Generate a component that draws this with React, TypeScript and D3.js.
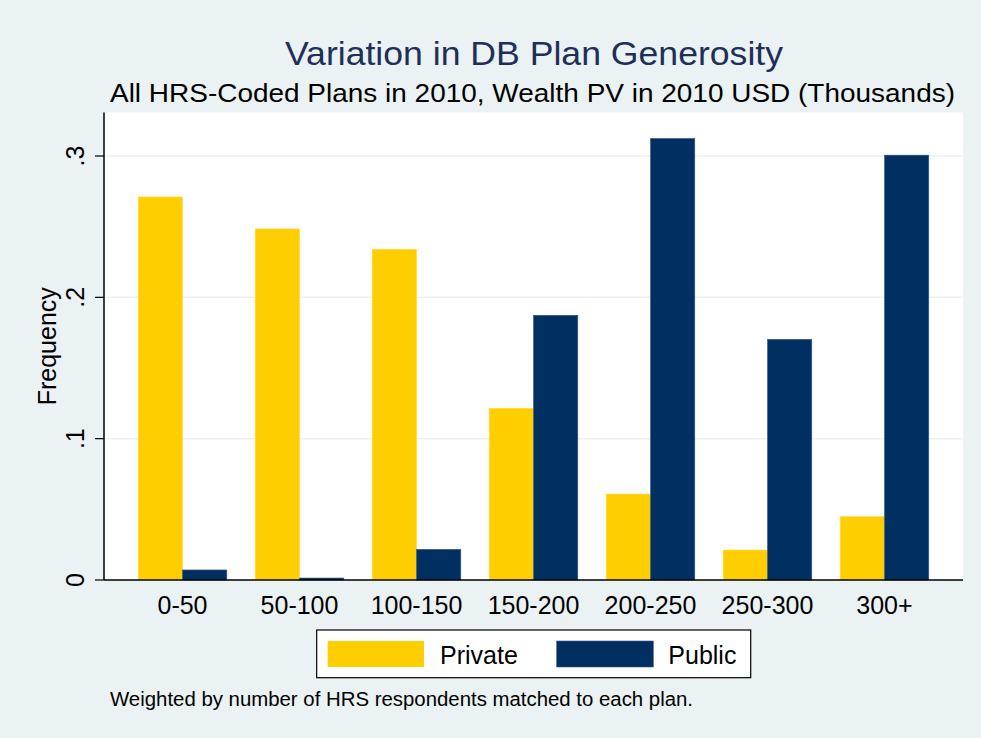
import React from "react";
import * as d3 from "d3";

const categories = ["0-50", "50-100", "100-150", "150-200", "200-250", "250-300", "300+"];
const privateValues = [0.271, 0.2484, 0.234, 0.1215, 0.0608, 0.0212, 0.0448];
const publicValues = [0.0071, 0.0014, 0.0217, 0.1873, 0.3124, 0.1703, 0.3006];
const seriesNames = ["Private", "Public"];
const yTicks = [0, 0.1, 0.2, 0.3];
const yTickLabels = ["0", ".1", ".2", ".3"];

const W = 981;
const H = 738;
const FONT = "'Liberation Sans', Arial, sans-serif";
const colors = { Private: "#FFCE00", Public: "#002F62" };
const strokes = { Private: "#FFDA40", Public: "#3A5A85" };

export default function App() {
  const left = 104, right = 963, top = 112.5, bottom = 580;
  const x0 = d3.scaleBand<string>().domain(categories).range([left, right]).paddingInner(0.2427).paddingOuter(0.2925);
  const x1 = d3.scaleBand<string>().domain(seriesNames).range([0, x0.bandwidth()]);
  const y = d3.scaleLinear().domain([0, 0.3]).range([bottom, 156]);
  const data = categories.map((c, i) => ({ c, vals: [privateValues[i], publicValues[i]] }));

  return (
    <svg width={W} height={H} style={{ position: "absolute", left: 0, top: 0 }} xmlns="http://www.w3.org/2000/svg">
      <rect x={0} y={0} width={W} height={H} fill="#EAF2F3" />
      <rect x={left} y={top} width={right - left} height={bottom - top} fill="#FFFFFF" />
      {yTicks.filter((t) => t > 0).map((t) => (
        <line key={t} x1={left} x2={right} y1={y(t)} y2={y(t)} stroke="#EAF2F3" strokeWidth={1.5} />
      ))}
      {data.map((d) => (
        <g key={d.c} transform={`translate(${x0(d.c)},0)`}>
          {seriesNames.map((s, j) => (
            <rect
              key={s}
              x={x1(s)!}
              y={y(d.vals[j])}
              width={x1.bandwidth()}
              height={bottom - y(d.vals[j])}
              fill={(colors as any)[s]}
              stroke={(strokes as any)[s]}
              strokeWidth={0.6}
            />
          ))}
        </g>
      ))}
      <line x1={left} x2={left} y1={top} y2={bottom} stroke="#000" strokeWidth={1.5} />
      <line x1={left} x2={right} y1={bottom} y2={bottom} stroke="#000" strokeWidth={1.5} />
      {yTicks.map((t, i) => (
        <g key={t}>
          <line x1={95} x2={left} y1={y(t)} y2={y(t)} stroke="#000" strokeWidth={1.2} />
          <text
            transform={`translate(${83.5},${y(t)}) rotate(-90)`}
            textAnchor="middle"
            fontFamily={FONT}
            fontSize={25}
            fill="#000"
          >
            {yTickLabels[i]}
          </text>
        </g>
      ))}
      <text transform={`translate(56,${(top + bottom) / 2}) rotate(-90)`} textAnchor="middle" fontFamily={FONT} fontSize={25} fill="#000">
        Frequency
      </text>
      {categories.map((c) => (
        <text key={c} x={x0(c)! + x0.bandwidth() / 2} y={614} textAnchor="middle" fontFamily={FONT} fontSize={25} fill="#000">
          {c}
        </text>
      ))}
      <text x={285} y={65} fontFamily={FONT} fontSize={34} fill="#1E2F5A" textLength={498} lengthAdjust="spacingAndGlyphs">
        Variation in DB Plan Generosity
      </text>
      <text x={110} y={102} fontFamily={FONT} fontSize={26} fill="#000" textLength={845} lengthAdjust="spacingAndGlyphs">
        All HRS-Coded Plans in 2010, Wealth PV in 2010 USD (Thousands)
      </text>
      <rect x={316.7} y={630} width={434} height={47.7} fill="#FFFFFF" stroke="#000" strokeWidth={1.2} />
      <rect x={327.7} y={641} width={96.3} height={26} fill={colors.Private} />
      <text x={440} y={664} fontFamily={FONT} fontSize={25} fill="#000">Private</text>
      <rect x={556.7} y={641} width={96.6} height={26} fill={colors.Public} stroke={strokes.Public} strokeWidth={0.6} />
      <text x={668.3} y={664} fontFamily={FONT} fontSize={25} fill="#000">Public</text>
      <text x={110} y={706} fontFamily={FONT} fontSize={20} fill="#000" textLength={583} lengthAdjust="spacingAndGlyphs">
        Weighted by number of HRS respondents matched to each plan.
      </text>
    </svg>
  );
}
